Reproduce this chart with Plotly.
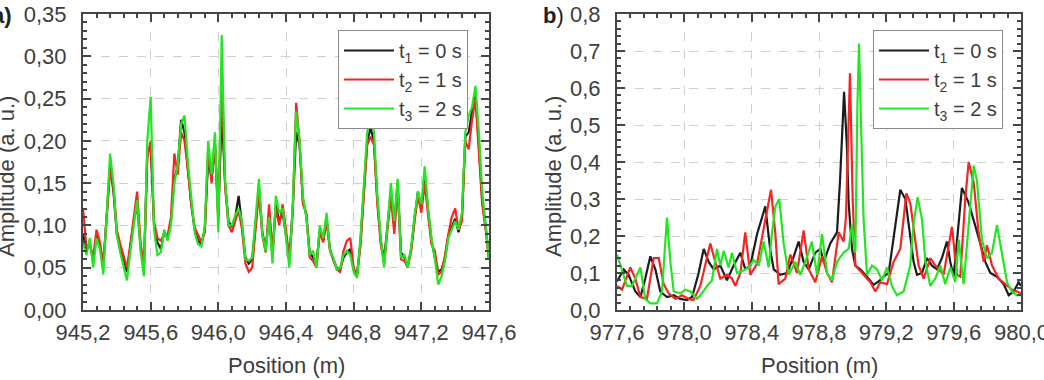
import plotly.graph_objects as go

# ---------------- Panel a data ----------------
xa = [round(945.20 + 0.02 * i, 2) for i in range(121)]
ya_t1 = [0.090, 0.070, 0.080, 0.058, 0.088, 0.075, 0.052, 0.110, 0.170, 0.140,
         0.090, 0.072, 0.060, 0.045, 0.075, 0.105, 0.125, 0.075, 0.048, 0.185,
         0.195, 0.100, 0.080, 0.072, 0.092, 0.085, 0.105, 0.155, 0.170, 0.225,
         0.210, 0.170, 0.125, 0.095, 0.082, 0.078, 0.095, 0.180, 0.155, 0.195,
         0.110, 0.235, 0.150, 0.105, 0.098, 0.110, 0.135, 0.100, 0.062, 0.055,
         0.060, 0.100, 0.145, 0.092, 0.072, 0.112, 0.065, 0.125, 0.105, 0.115,
         0.090, 0.062, 0.120, 0.210, 0.195, 0.130, 0.112, 0.068, 0.062, 0.055,
         0.095, 0.082, 0.108, 0.072, 0.060, 0.050, 0.048, 0.062, 0.068, 0.072,
         0.048, 0.042, 0.080, 0.140, 0.200, 0.215, 0.200, 0.130, 0.082, 0.060,
         0.098, 0.140, 0.100, 0.150, 0.068, 0.062, 0.052, 0.072, 0.108, 0.140,
         0.120, 0.158, 0.118, 0.082, 0.062, 0.045, 0.048, 0.062, 0.088, 0.098,
         0.108, 0.092, 0.110, 0.205, 0.210, 0.235, 0.255, 0.195, 0.130, 0.100,
         0.060]
ya_t2 = [0.120, 0.075, 0.078, 0.062, 0.095, 0.080, 0.055, 0.105, 0.165, 0.145,
         0.095, 0.078, 0.065, 0.050, 0.078, 0.110, 0.140, 0.080, 0.050, 0.180,
         0.200, 0.105, 0.085, 0.082, 0.090, 0.088, 0.110, 0.185, 0.160, 0.210,
         0.200, 0.165, 0.125, 0.098, 0.090, 0.080, 0.092, 0.190, 0.150, 0.200,
         0.105, 0.280, 0.145, 0.100, 0.092, 0.105, 0.118, 0.095, 0.055, 0.045,
         0.050, 0.095, 0.140, 0.088, 0.068, 0.125, 0.070, 0.120, 0.100, 0.125,
         0.095, 0.058, 0.118, 0.245, 0.200, 0.125, 0.115, 0.062, 0.058, 0.050,
         0.092, 0.080, 0.105, 0.070, 0.058, 0.048, 0.045, 0.070, 0.082, 0.085,
         0.050, 0.040, 0.075, 0.135, 0.195, 0.205, 0.195, 0.125, 0.078, 0.055,
         0.092, 0.135, 0.090, 0.145, 0.060, 0.058, 0.050, 0.070, 0.105, 0.135,
         0.115, 0.150, 0.112, 0.078, 0.070, 0.042, 0.045, 0.065, 0.090, 0.110,
         0.120, 0.095, 0.105, 0.200, 0.190, 0.225, 0.250, 0.190, 0.125, 0.095,
         0.060]
ya_t3 = [0.080, 0.065, 0.085, 0.050, 0.085, 0.072, 0.042, 0.110, 0.185, 0.150,
         0.088, 0.068, 0.052, 0.035, 0.070, 0.100, 0.130, 0.070, 0.040, 0.200,
         0.252, 0.095, 0.065, 0.068, 0.095, 0.082, 0.100, 0.150, 0.172, 0.220,
         0.230, 0.175, 0.130, 0.092, 0.078, 0.075, 0.100, 0.200, 0.160, 0.210,
         0.092, 0.325, 0.155, 0.100, 0.100, 0.112, 0.120, 0.105, 0.060, 0.058,
         0.062, 0.105, 0.155, 0.090, 0.070, 0.110, 0.055, 0.135, 0.115, 0.120,
         0.088, 0.050, 0.125, 0.235, 0.200, 0.135, 0.110, 0.065, 0.070, 0.050,
         0.100, 0.085, 0.115, 0.070, 0.062, 0.048, 0.050, 0.065, 0.070, 0.065,
         0.045, 0.038, 0.085, 0.150, 0.210, 0.230, 0.210, 0.135, 0.085, 0.050,
         0.100, 0.150, 0.105, 0.155, 0.062, 0.065, 0.050, 0.075, 0.112, 0.140,
         0.125, 0.170, 0.120, 0.085, 0.060, 0.030, 0.040, 0.058, 0.085, 0.095,
         0.105, 0.095, 0.115, 0.210, 0.230, 0.240, 0.265, 0.210, 0.140, 0.100,
         0.060]

# ---------------- Panel b data ----------------
xb_t1 = [977.600, 977.640, 977.669, 977.709, 977.739, 977.768, 977.798, 977.828,
         977.857, 977.897, 977.937, 977.976, 978.016, 978.046, 978.085, 978.115,
         978.145, 978.174, 978.214, 978.253, 978.293, 978.333, 978.362, 978.392,
         978.432, 978.481, 978.511, 978.531, 978.570, 978.610, 978.650, 978.679,
         978.709, 978.739, 978.778, 978.808, 978.828, 978.867, 978.907, 978.925,
         978.949, 978.965, 978.976, 978.996, 979.016, 979.045, 979.085, 979.125,
         979.154, 979.184, 979.214, 979.253, 979.283, 979.313, 979.342, 979.362,
         979.382, 979.412, 979.441, 979.471, 979.501, 979.530, 979.560, 979.580,
         979.600, 979.630, 979.649, 979.689, 979.729, 979.758, 979.788, 979.818,
         979.857, 979.897, 979.927, 979.956, 979.986, 980.000]
yb_t1 = [0.077, 0.110, 0.095, 0.050, 0.035, 0.085, 0.145, 0.110,
         0.050, 0.035, 0.040, 0.030, 0.027, 0.035, 0.100, 0.165,
         0.130, 0.110, 0.120, 0.080, 0.120, 0.155, 0.110, 0.120,
         0.205, 0.280, 0.160, 0.110, 0.095, 0.100, 0.145, 0.185,
         0.130, 0.110, 0.155, 0.165, 0.130, 0.180, 0.210, 0.350,
         0.590, 0.450, 0.290, 0.165, 0.120, 0.110, 0.090, 0.068,
         0.077, 0.090, 0.100, 0.220, 0.325, 0.300, 0.200, 0.130,
         0.095, 0.100, 0.140, 0.120, 0.110, 0.140, 0.185, 0.130,
         0.090, 0.245, 0.330, 0.290, 0.230, 0.180, 0.130, 0.100,
         0.090, 0.070, 0.040, 0.050, 0.075, 0.065]

xb_t2 = [977.600, 977.630, 977.679, 977.709, 977.739, 977.778, 977.818, 977.848,
         977.877, 977.907, 977.947, 977.986, 978.026, 978.055, 978.095, 978.125,
         978.154, 978.184, 978.214, 978.253, 978.283, 978.303, 978.333, 978.362,
         978.392, 978.432, 978.471, 978.515, 978.541, 978.560, 978.600, 978.630,
         978.669, 978.709, 978.739, 978.778, 978.818, 978.848, 978.877, 978.917,
         978.946, 978.960, 978.984, 979.000, 979.016, 979.065, 979.105, 979.135,
         979.164, 979.204, 979.243, 979.283, 979.319, 979.342, 979.372, 979.392,
         979.422, 979.461, 979.491, 979.540, 979.590, 979.620, 979.639, 979.669,
         979.689, 979.719, 979.748, 979.778, 979.798, 979.828, 979.867, 979.907,
         979.946, 979.976, 980.000]
yb_t2 = [0.065, 0.055, 0.115, 0.085, 0.035, 0.030, 0.140, 0.140,
         0.070, 0.045, 0.030, 0.040, 0.030, 0.027, 0.065, 0.120,
         0.180, 0.130, 0.085, 0.095, 0.085, 0.065, 0.100, 0.210,
         0.095, 0.125, 0.220, 0.325, 0.205, 0.070, 0.085, 0.150,
         0.100, 0.215, 0.110, 0.075, 0.145, 0.100, 0.075, 0.210,
         0.185, 0.250, 0.640, 0.300, 0.120, 0.095, 0.075, 0.050,
         0.075, 0.070, 0.130, 0.165, 0.315, 0.290, 0.190, 0.120,
         0.085, 0.140, 0.120, 0.095, 0.225, 0.095, 0.090, 0.300,
         0.400, 0.345, 0.210, 0.130, 0.175, 0.120, 0.085, 0.070,
         0.055, 0.050, 0.045]

xb_t3 = [977.600, 977.630, 977.659, 977.689, 977.739, 977.768, 977.798, 977.838,
         977.867, 977.897, 977.917, 977.937, 977.976, 978.006, 978.036, 978.075,
         978.105, 978.135, 978.164, 978.194, 978.214, 978.234, 978.263, 978.283,
         978.313, 978.343, 978.382, 978.412, 978.442, 978.471, 978.501, 978.521,
         978.541, 978.564, 978.590, 978.620, 978.659, 978.689, 978.719, 978.758,
         978.788, 978.818, 978.848, 978.877, 978.907, 978.946, 978.976, 978.996,
         979.016, 979.028, 979.038, 979.050, 979.065, 979.085, 979.115, 979.145,
         979.174, 979.204, 979.233, 979.263, 979.303, 979.342, 979.362, 979.386,
         979.412, 979.432, 979.461, 979.491, 979.521, 979.550, 979.580, 979.610,
         979.630, 979.659, 979.689, 979.719, 979.738, 979.768, 979.798, 979.828,
         979.857, 979.887, 979.917, 979.946, 979.976, 980.000]
yb_t3 = [0.150, 0.105, 0.065, 0.065, 0.115, 0.030, 0.018, 0.018,
         0.050, 0.250, 0.130, 0.050, 0.045, 0.055, 0.050, 0.030,
         0.045, 0.065, 0.080, 0.165, 0.120, 0.160, 0.115, 0.155,
         0.100, 0.105, 0.115, 0.135, 0.120, 0.185, 0.115, 0.210,
         0.280, 0.300, 0.180, 0.095, 0.130, 0.095, 0.130, 0.185,
         0.095, 0.205, 0.100, 0.080, 0.130, 0.155, 0.165, 0.230,
         0.155, 0.550, 0.720, 0.500, 0.245, 0.095, 0.120, 0.110,
         0.080, 0.115, 0.065, 0.040, 0.050, 0.120, 0.235, 0.305,
         0.245, 0.130, 0.065, 0.085, 0.120, 0.070, 0.115, 0.075,
         0.190, 0.070, 0.230, 0.390, 0.350, 0.190, 0.140, 0.155,
         0.230, 0.155, 0.075, 0.050, 0.040, 0.040]

names = ["t<sub>1</sub> = 0 s", "t<sub>2</sub> = 1 s", "t<sub>3</sub> = 2 s"]
colors = ["#1c1c1c", "#f52525", "#22e622"]
last_tick_b = 980.0
last_tick_b_text = "980,0"

W, H = 1044, 380
FONT = "Liberation Sans, Arial, sans-serif"
TXT = "#3d3d3d"
FS = 22
LFS = 20

def px(x):
    return x / W

def py(y):
    return 1 - y / H

fig = go.Figure()

for ys, nm, c in zip([ya_t1, ya_t2, ya_t3], names, colors):
    fig.add_trace(go.Scatter(x=xa, y=ys, mode="lines", name=nm,
                             line=dict(color=c, width=2.2),
                             xaxis="x", yaxis="y", legend="legend"))

for xs, ys, nm, c in zip([xb_t1, xb_t2, xb_t3], [yb_t1, yb_t2, yb_t3], names, colors):
    fig.add_trace(go.Scatter(x=xs, y=ys, mode="lines", name=nm,
                             line=dict(color=c, width=2.2),
                             xaxis="x2", yaxis="y2", legend="legend2"))

frame = "#454545"
tickfont = dict(family=FONT, size=FS, color=TXT)

def axis_style(minor_dtick):
    return dict(showline=True, linecolor=frame, linewidth=2, mirror="ticks",
                ticks="inside", ticklen=8, tickwidth=2, tickcolor=frame,
                showgrid=True, gridcolor="#cfcfcf", griddash="dash",
                zeroline=False, tickfont=tickfont, automargin=False,
                minor=dict(dtick=minor_dtick, ticks="inside", ticklen=4, tickcolor=frame))

ya_dom = [py(310), py(14)]

fig.update_layout(
    width=W, height=H, margin=dict(l=0, r=0, t=0, b=0, autoexpand=False),
    paper_bgcolor="white", plot_bgcolor="white",
    separators=", ",
    font=dict(family=FONT, size=FS, color=TXT),
    xaxis=dict(domain=[px(83), px(489)], range=[945.2, 947.6], tick0=945.2, dtick=0.4,
               tickformat=".1f", anchor="y", ticklabelstandoff=2, **axis_style(0.08)),
    yaxis=dict(domain=ya_dom, range=[0, 0.35], tick0=0, dtick=0.05, tickformat=".2f",
               anchor="x", ticklabelstandoff=10, **axis_style(0.01)),
    xaxis2=dict(domain=[px(617), px(1021)], range=[977.6, 980.0], tick0=977.6, dtick=0.4,
                tickformat=".1f", anchor="y2", ticklabelstandoff=2, **axis_style(0.08)),
    yaxis2=dict(domain=ya_dom, range=[0, 0.8], tick0=0, dtick=0.1, tickformat=".1f",
                anchor="x2", ticklabelstandoff=10, **axis_style(0.02)),
    legend=dict(x=px(338), y=py(30), xanchor="left", yanchor="top",
                bgcolor="white", bordercolor="#8a8a8a", borderwidth=1,
                font=dict(family=FONT, size=LFS, color=TXT), itemwidth=50,
                tracegroupgap=0),
    legend2=dict(x=px(873), y=py(30), xanchor="left", yanchor="top",
                 bgcolor="white", bordercolor="#8a8a8a", borderwidth=1,
                 font=dict(family=FONT, size=LFS, color=TXT), itemwidth=50,
                 tracegroupgap=0),
    showlegend=True,
)

# last tick label of panel b, which runs past the page edge as in the original
fig.add_annotation(xref="x2", yref="paper", x=last_tick_b, y=py(332),
                   text=last_tick_b_text, showarrow=False,
                   xanchor="center", yanchor="middle", font=tickfont)

ann = [
    dict(text="Position (m)", x=(px(83) + px(489)) / 2, y=py(365)),
    dict(text="Position (m)", x=(px(617) + px(1021)) / 2, y=py(365)),
    dict(text="Amplitude (a. u.)", x=px(6), y=py(177), textangle=-90),
    dict(text="Amplitude (a. u.)", x=px(553), y=py(177), textangle=-90),
]
for a in ann:
    fig.add_annotation(xref="paper", yref="paper", showarrow=False,
                       xanchor="center", yanchor="middle",
                       font=dict(family=FONT, size=FS, color=TXT), **a)

fig.add_annotation(xref="paper", yref="paper", showarrow=False, text="<b>a)</b>",
                   x=px(14), y=py(15), xanchor="right", yanchor="middle",
                   font=dict(family=FONT, size=FS, color="#222"))
fig.add_annotation(xref="paper", yref="paper", showarrow=False, text="<b>b</b>)",
                   x=px(541), y=py(15), xanchor="left", yanchor="middle",
                   font=dict(family=FONT, size=FS, color="#222"))

fig.write_html("out.html")
